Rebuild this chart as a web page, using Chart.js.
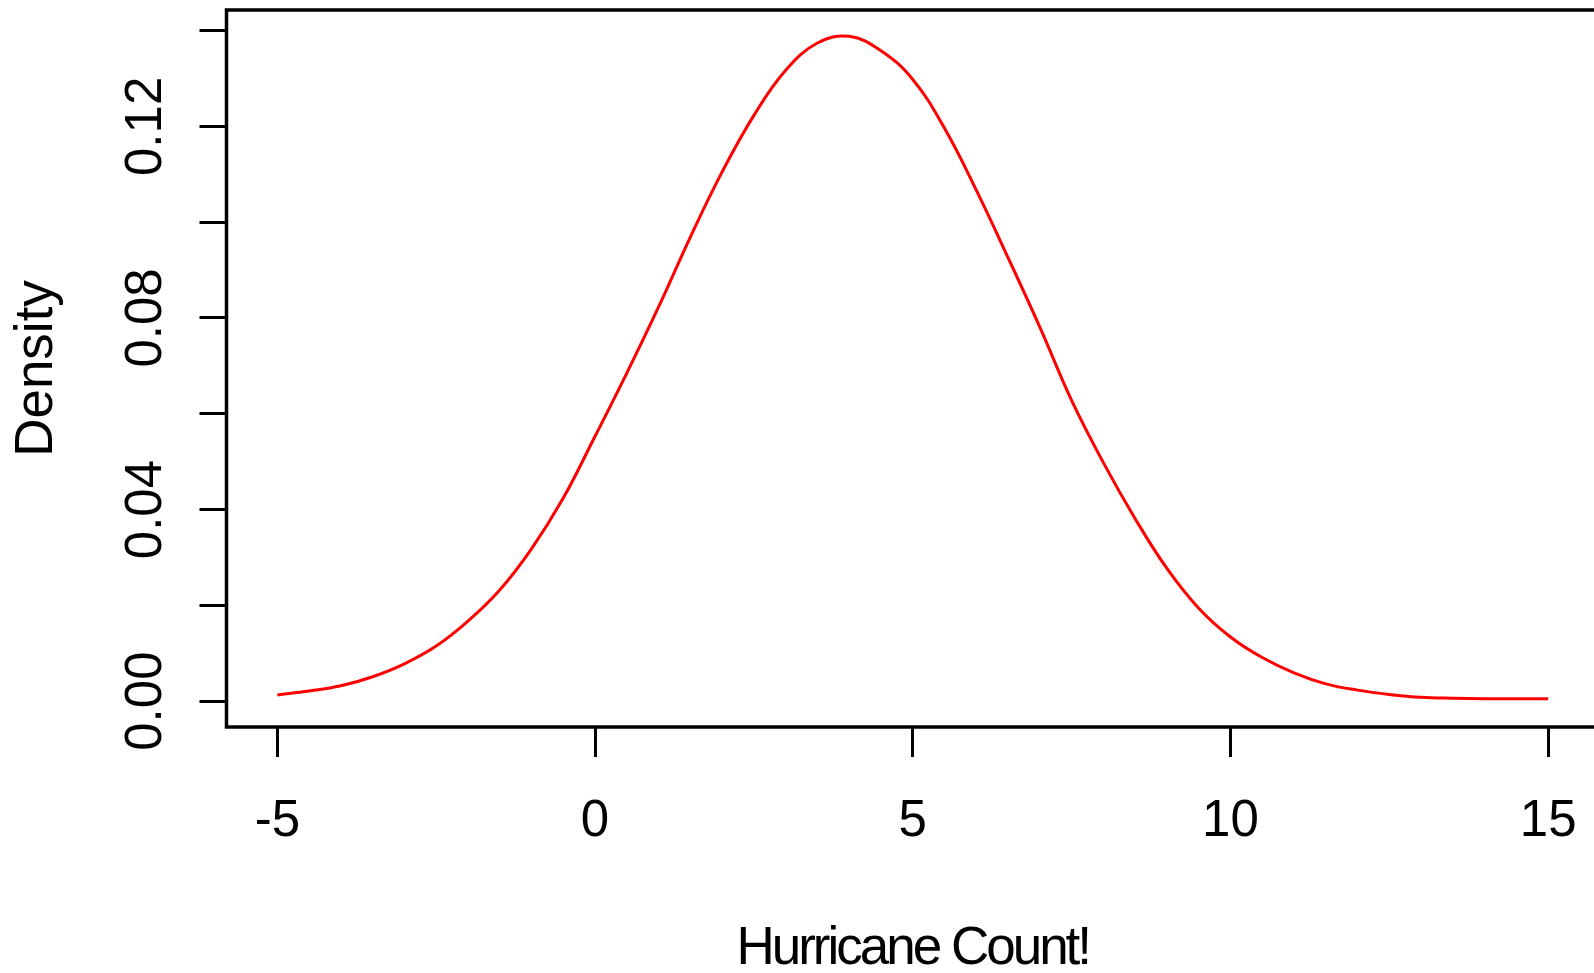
<!DOCTYPE html>
<html>
<head>
<meta charset="utf-8">
<title>Density</title>
<script src="https://cdn.jsdelivr.net/npm/chart.js@4.4.1/dist/chart.umd.min.js"></script>
<style>
  html, body { margin: 0; padding: 0; background: #fff; overflow: hidden; }
  #wrap { width: 1640px; height: 973px; }
</style>
</head>
<body>
<div id="wrap"><canvas id="densityChart" width="1640" height="973"></canvas></div>
<script>
// valores (passo de 0.5)
const xValues = [-5, -4.5, -4, -3.5, -3, -2.5, -2, -1.5, -1, -0.5,
  0, 0.5, 1, 1.5, 2, 2.5, 3, 3.5, 4, 4.5,
  5, 5.5, 6, 6.5, 7, 7.5, 8, 8.5, 9, 9.5,
  10, 10.5, 11, 11.5, 12, 12.5, 13, 13.5, 14, 14.5, 15];
const densityValues = [0.0013, 0.0021, 0.0032, 0.0051, 0.0078, 0.0115, 0.0167, 0.0232, 0.0318, 0.0424,
  0.0553, 0.0685, 0.0823, 0.0969, 0.1105, 0.1223, 0.1317, 0.1374, 0.1388, 0.1358,
  0.1298, 0.1196, 0.1067, 0.0926, 0.0781, 0.0628, 0.0498, 0.0381, 0.0277, 0.0194,
  0.0134, 0.0091, 0.0059, 0.0036, 0.0023, 0.0014, 0.0008, 0.0006, 0.0005, 0.0005, 0.0005];

const xTickValues = [-5, 0, 5, 10, 15];
const xTickLabels = ['-5', '0', '5', '10', '15'];
const yTickValues = [0, 0.02, 0.04, 0.06, 0.08, 0.10, 0.12, 0.14];
const yTickLabels = ['0.00', '', '0.04', '', '0.08', '', '0.12', ''];

const fontFamily = '"Liberation Sans", Arial, sans-serif';

// caixa em volta da area do grafico (estilo R)
const boxPlugin = {
  id: 'box',
  afterDatasetsDraw(chart) {
    const { ctx, chartArea: a } = chart;
    ctx.save();
    ctx.strokeStyle = '#000';
    ctx.lineWidth = 3.5;
    ctx.strokeRect(a.left, a.top, a.right - a.left, a.bottom - a.top);
    ctx.restore();
  }
};

// titulo do eixo x mais apertado, como no original
const narrowTitlePlugin = {
  id: 'narrowTitle',
  beforeDraw(chart) {
    const sx = chart.scales.x;
    if (sx._narrow) return;
    const drawTitle = sx.drawTitle;
    sx.drawTitle = function () {
      chart.ctx.save();
      chart.ctx.letterSpacing = '-3px';
      drawTitle.call(sx);
      chart.ctx.restore();
    };
    sx._narrow = true;
  }
};

const ctx = document.getElementById('densityChart').getContext('2d');
new Chart(ctx, {
  type: 'line',
  data: {
    datasets: [{
      label: 'Density',
      data: xValues.map((x, i) => ({ x: x, y: densityValues[i] })),
      borderColor: '#ff0000',
      borderWidth: 3,
      pointRadius: 0,
      fill: false,
      tension: 0.4
    }]
  },
  options: {
    responsive: false,
    devicePixelRatio: 1,
    animation: false,
    layout: { padding: { top: 10, right: 41, left: 0, bottom: 0 } },
    plugins: {
      legend: { display: false },
      tooltip: { enabled: false }
    },
    scales: {
      x: {
        type: 'linear',
        min: -5.8,
        max: 15.8,
        afterBuildTicks: s => { s.ticks = xTickValues.map(v => ({ value: v })); },
        afterFit: s => {
          s.height = 246;
          s.paddingLeft = 0;
          s.paddingRight = 0;
        },
        border: { display: false },
        grid: { drawOnChartArea: false, drawTicks: true, tickLength: 30, color: '#000', lineWidth: 3 },
        ticks: {
          autoSkip: false,
          maxRotation: 0,
          padding: 34,
          color: '#000',
          font: { family: fontFamily, size: 51, lineHeight: 1.2 },
          callback: (v, i) => xTickLabels[i]
        },
        title: {
          display: true,
          text: 'Hurricane Count!',
          color: '#000',
          font: { family: fontFamily, size: 53, lineHeight: 0.85 },
          padding: { top: 0, bottom: 1 }
        }
      },
      y: {
        type: 'linear',
        min: -0.0054,
        max: 0.1443,
        afterBuildTicks: s => { s.ticks = yTickValues.map(v => ({ value: v })); },
        afterFit: s => {
          s.width = 226.5;
          s.paddingTop = 0;
          s.paddingBottom = 0;
        },
        border: { display: false },
        grid: { drawOnChartArea: false, drawTicks: true, tickLength: 27, color: '#000', lineWidth: 3 },
        ticks: {
          autoSkip: false,
          minRotation: 90,
          maxRotation: 90,
          crossAlign: 'center',
          padding: 3,
          color: '#000',
          font: { family: fontFamily, size: 51, lineHeight: 1.2 },
          callback: (v, i) => yTickLabels[i]
        },
        title: {
          display: true,
          text: 'Density',
          color: '#000',
          font: { family: fontFamily, size: 53, lineHeight: 1.2 },
          padding: { top: 6, bottom: 0 }
        }
      }
    }
  },
  plugins: [boxPlugin, narrowTitlePlugin]
});
</script>
</body>
</html>
